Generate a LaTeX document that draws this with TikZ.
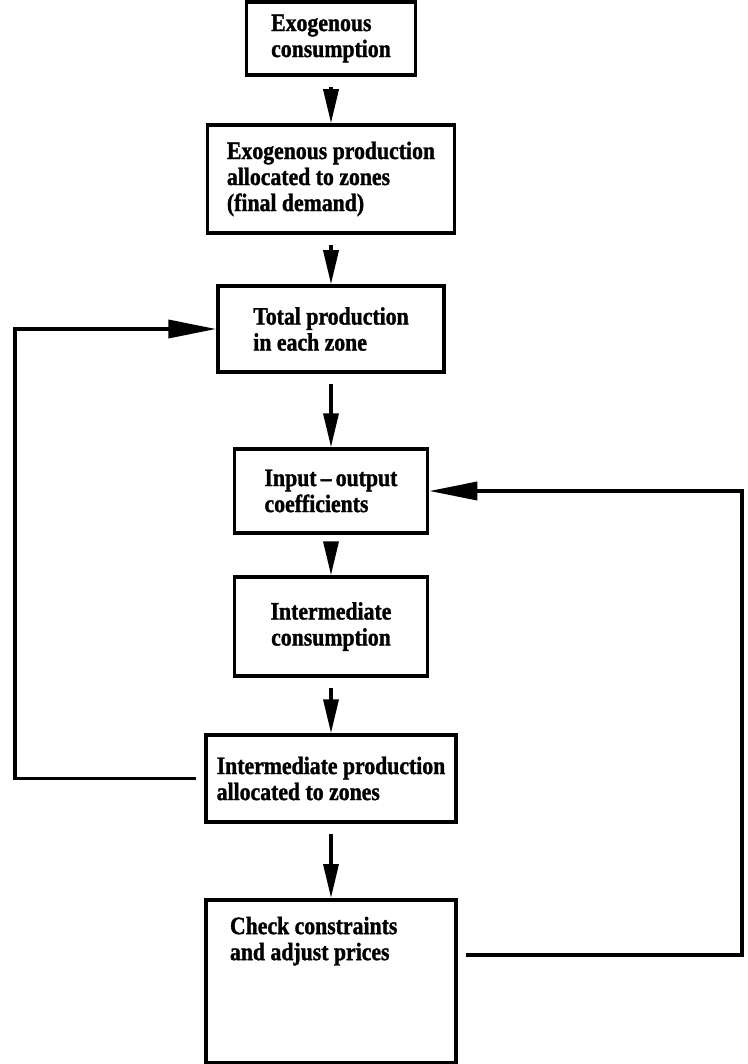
\documentclass[tikz,border=0pt]{standalone}
\usepackage{fontspec}
\newfontfamily\boxfont[FakeStretch=0.87,FakeBold=1.3]{Liberation Serif}
\usetikzlibrary{arrows.meta,calc}
\begin{document}
\begin{tikzpicture}[x=1pt,y=-1pt,
  box/.style={draw, line width=3.5pt, align=left, inner sep=0pt,
    font=\boxfont\bfseries\fontsize{25}{26}\selectfont},
  conn/.style={line width=3.5pt},
  down/.style={conn, -{Triangle[length=34pt,width=15pt]}},
  side/.style={conn, -{Triangle[length=48pt,width=18pt]}},
]
\useasboundingbox (0,0) rectangle (747,1064);

\node[box, minimum width=169pt, minimum height=73pt] (b1) at (331,38.5) {Exogenous\\consumption};
\node[box, minimum width=247pt, minimum height=108pt] (b2) at (331,179) {Exogenous production\\allocated to zones\\(final demand)};
\node[box, minimum width=226pt, minimum height=86pt] (b3) at (331,329) {Total production\\in each zone};
\node[box, minimum width=193pt, minimum height=84pt] (b4) at (331,491) {Input\,–\,output\\coefficients};
\node[box, align=center, minimum width=193pt, minimum height=99pt] (b5) at (331,626.5) {Intermediate\\consumption};
\node[box, minimum width=250pt, minimum height=87pt] (b6) at (331,778.5) {Intermediate production\\allocated to zones};
\node[box, anchor=north, inner xsep=24pt, inner ysep=17pt, minimum width=250pt] (b7) at (331,898)
  {\parbox[t][129pt][t]{202pt}{Check constraints\\and adjust prices}};

\coordinate (cl) at (15,0);
\coordinate (cr) at (742,955);

\draw[down] ([yshift=-10pt]b1.south) -- (b2.north);
\draw[down] ([yshift=-10pt]b2.south) -- (b3.north);
\draw[down] ([yshift=-10pt]b3.south) -- (b4.north);
\draw[down] ([yshift=-10pt]b4.south) -- (b5.north);
\draw[down] ([yshift=-10pt]b5.south) -- (b6.north);
\draw[down] ([yshift=-10pt]b6.south) -- (b7.north);

\draw[side] ([xshift=-8pt]b6.west) -- (b6.west -| cl) |- (b3.west);
\draw[side] (b7.east |- cr) ++(8,0) -- (cr) |- (b4.east);
\end{tikzpicture}
\end{document}
